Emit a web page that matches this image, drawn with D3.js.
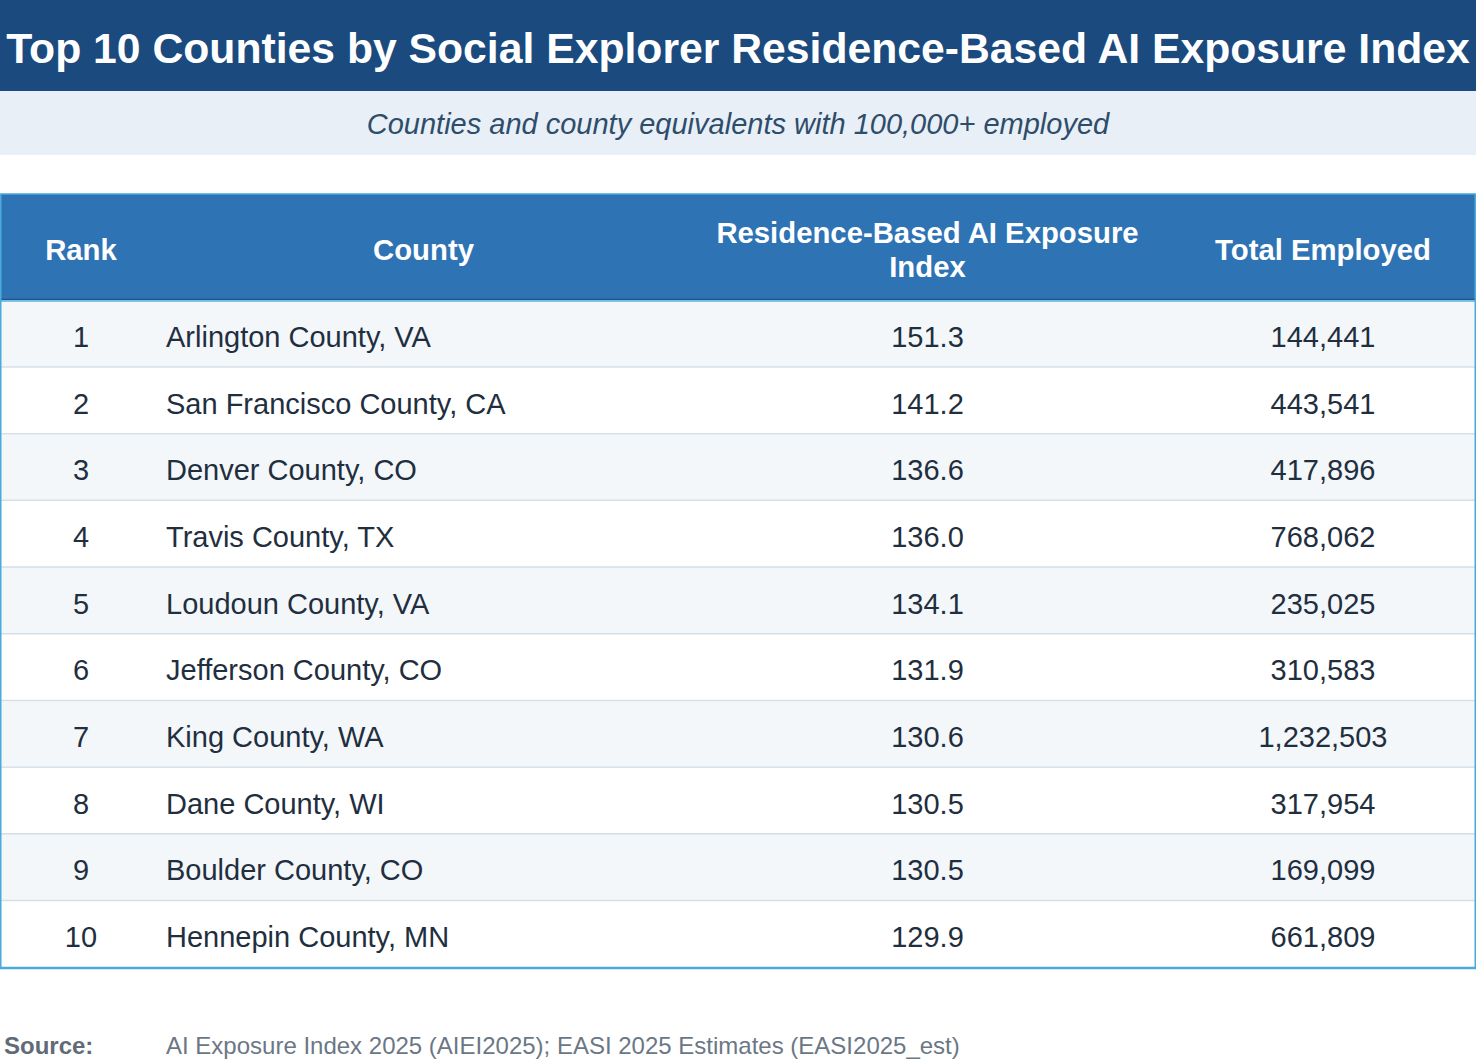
<!DOCTYPE html>
<html>
<head>
<meta charset="utf-8">
<script src="https://cdn.jsdelivr.net/npm/d3@7"></script>
<style>
  html, body { margin: 0; padding: 0; background: #fff; }
  svg { display: block; font-family: "Liberation Sans", Arial, Helvetica, sans-serif; }
</style>
</head>
<body>
<div class="js-container"></div>
<script>
(function() {
  'use strict';

  // Table contents.
  var ranks = [1, 2, 3, 4, 5, 6, 7, 8, 9, 10];
  var counties = [
    'Arlington County, VA', 'San Francisco County, CA', 'Denver County, CO',
    'Travis County, TX', 'Loudoun County, VA', 'Jefferson County, CO',
    'King County, WA', 'Dane County, WI', 'Boulder County, CO',
    'Hennepin County, MN'
  ];
  var exposureIndex = [151.3, 141.2, 136.6, 136.0, 134.1, 131.9, 130.6, 130.5, 130.5, 129.9];
  var totalEmployed = [144441, 443541, 417896, 768062, 235025, 310583, 1232503, 317954, 169099, 661809];
  var columnHeaders = [['Rank'], ['County'], ['Residence-Based AI Exposure', 'Index'], ['Total Employed']];

  var titleText = 'Top 10 Counties by Social Explorer Residence-Based AI Exposure Index';
  var subtitleText = 'Counties and county equivalents with 100,000+ employed';
  var sourceText = 'AI Exposure Index 2025 (AIEI2025); EASI 2025 Estimates (EASI2025_est)';

  var W = 1476, H = 1061;

  var tableTop = 194, headerBottom = 300, tableBottom = 968;

  // column edges (rank | county | index | employed)
  var colEdges = [0, 162, 685, 1170, W];

  var svg = d3.select('.js-container').append('svg')
      .attr('width', W)
      .attr('height', H);

  // Title band
  svg.append('rect')
      .attr('x', 0).attr('y', 0)
      .attr('width', W).attr('height', 91)
      .attr('fill', '#1a4a7e');

  var title = svg.append('text')
      .attr('x', W / 2)
      .attr('y', 63)
      .attr('text-anchor', 'middle')
      .attr('fill', '#ffffff')
      .attr('font-size', 42.7)
      .attr('font-weight', 'bold')
      .text(titleText);

  // keep the title inside the band
  if (title.node().getComputedTextLength() > 1464) {
    title.attr('textLength', 1462).attr('lengthAdjust', 'spacingAndGlyphs');
  }

  // Subtitle band
  svg.append('rect')
      .attr('x', 0).attr('y', 91)
      .attr('width', W).attr('height', 64)
      .attr('fill', '#e8eff7');

  svg.append('text')
      .attr('x', W / 2)
      .attr('y', 134)
      .attr('text-anchor', 'middle')
      .attr('fill', '#2e4d6b')
      .attr('font-size', 29)
      .attr('font-style', 'italic')
      .text(subtitleText);

  // Row scale
  var y = d3.scaleBand()
      .domain(ranks)
      .range([headerBottom + 1, tableBottom]);

  // Header
  svg.append('rect')
      .attr('x', 0).attr('y', tableTop)
      .attr('width', W).attr('height', headerBottom - tableTop)
      .attr('fill', '#2e73b4');

  var headerMid = (tableTop + headerBottom) / 2;
  var lineH = 34;

  columnHeaders.forEach(function(lines, i) {
    var cx = (colEdges[i] + colEdges[i + 1]) / 2;
    var t = svg.append('text')
        .attr('text-anchor', 'middle')
        .attr('fill', '#ffffff')
        .attr('font-size', 29.3)
        .attr('font-weight', 'bold');
    lines.forEach(function(line, j) {
      t.append('tspan')
          .attr('x', cx)
          .attr('y', headerMid + 13 + (j - (lines.length - 1) / 2) * lineH)
          .text(line);
    });
  });

  // Rows
  var rows = svg.selectAll('.row')
      .data(ranks)
      .enter().append('g')
      .classed('row', true)
      .attr('transform', function(d) { return 'translate(0,' + y(d) + ')'; });

  rows.append('rect')
      .attr('x', 0).attr('y', 0)
      .attr('width', W)
      .attr('height', y.bandwidth())
      .attr('fill', function(d, i) { return i % 2 === 0 ? '#f3f7fa' : '#ffffff'; });

  rows.filter(function(d, i) { return i < ranks.length - 1; })
    .append('line')
      .attr('x1', 0).attr('x2', W)
      .attr('y1', y.bandwidth() - 0.5)
      .attr('y2', y.bandwidth() - 0.5)
      .attr('stroke', '#d5dfe8')
      .attr('stroke-width', 2);

  var fmt = d3.format(',');
  var fmt1 = d3.format('.1f');
  var baseY = y.bandwidth() / 2 + 12.5;

  function cell(getText, x, anchor) {
    rows.append('text')
        .attr('x', x)
        .attr('y', baseY)
        .attr('text-anchor', anchor)
        .attr('fill', '#1f2f40')
        .attr('font-size', 29)
        .text(getText);
  }

  cell(function(d) { return d; }, (colEdges[0] + colEdges[1]) / 2, 'middle');
  cell(function(d, i) { return counties[i]; }, 166, 'start');
  cell(function(d, i) { return fmt1(exposureIndex[i]); }, (colEdges[2] + colEdges[3]) / 2, 'middle');
  cell(function(d, i) { return fmt(totalEmployed[i]); }, (colEdges[3] + colEdges[4]) / 2, 'middle');

  // Borders
  svg.append('line')
      .attr('x1', 0).attr('x2', W)
      .attr('y1', headerBottom - 0.5).attr('y2', headerBottom - 0.5)
      .attr('stroke', '#1f5488').attr('stroke-width', 1.5);

  svg.append('line')
      .attr('x1', 0).attr('x2', W)
      .attr('y1', headerBottom + 1).attr('y2', headerBottom + 1)
      .attr('stroke', '#5ab4e0').attr('stroke-width', 1.5);

  svg.append('rect')
      .attr('x', 0.75).attr('y', tableTop)
      .attr('width', W - 1.5).attr('height', tableBottom - tableTop)
      .attr('fill', 'none')
      .attr('stroke', '#4aaad9')
      .attr('stroke-width', 1.5);

  svg.append('line')
      .attr('x1', 0).attr('x2', W)
      .attr('y1', tableBottom).attr('y2', tableBottom)
      .attr('stroke', '#4aaad9').attr('stroke-width', 2.5);

  // Source
  svg.append('text')
      .attr('x', 4)
      .attr('y', 1054)
      .attr('fill', '#5f6b76')
      .attr('font-size', 24)
      .attr('font-weight', 'bold')
      .text('Source:');

  svg.append('text')
      .attr('x', 166)
      .attr('y', 1054)
      .attr('fill', '#6b7785')
      .attr('font-size', 24)
      .text(sourceText);

}());
</script>
</body>
</html>
